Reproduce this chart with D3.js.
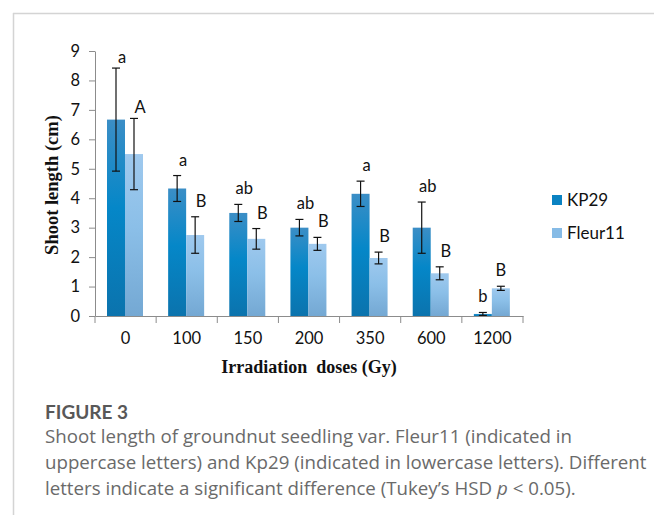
<!DOCTYPE html>
<html><head><meta charset="utf-8">
<script src="https://cdn.jsdelivr.net/npm/d3@7"></script>
<style>
html,body{margin:0;padding:0;background:#fff;}
svg{display:block;}
</style></head>
<body>
<svg id="chart" width="654" height="515"></svg>
<script>
const categories = ["0","100","150","200","350","600","1200"];
const seriesNames = ["KP29","Fleur11"];
const kp29 = [6.67, 4.33, 3.5, 3.0, 4.15, 3.0, 0.07];
const fleur11 = [5.5, 2.75, 2.62, 2.45, 1.97, 1.45, 0.94];
const kp29Err = [1.75, 0.44, 0.29, 0.28, 0.43, 0.87, 0.05];
const fleur11Err = [1.21, 0.62, 0.35, 0.22, 0.2, 0.22, 0.07];
const kp29Letters = ["a","a","ab","ab","a","ab","b"];
const fleur11Letters = ["A","B","B","B","B","B","B"];
const yTicks = [0,1,2,3,4,5,6,7,8,9];

const svg = d3.select("#chart");
const defs = svg.append("defs");
function grad(id, stops){
  const g = defs.append("linearGradient").attr("id", id).attr("x1",0).attr("y1",0).attr("x2",0).attr("y2",1);
  stops.forEach(s => g.append("stop").attr("offset", s[0]).attr("stop-color", s[1]));
}
grad("gKP", [[0,"#3b8ec6"],[0.45,"#0587c8"],[1,"#0b73ad"]]);
grad("gFL", [[0,"#9fc9ee"],[0.45,"#8bbfe8"],[1,"#74a8d3"]]);
const colors = ["url(#gKP)","url(#gFL)"];
const legendColors = ["#0a82c2","#86bbe6"];

// frame
svg.append("line").attr("x1",13).attr("y1",13.5).attr("x2",654).attr("y2",13.5).attr("stroke","#d4d4d4").attr("stroke-width",1.5);
svg.append("line").attr("x1",13.5).attr("y1",13).attr("x2",13.5).attr("y2",515).attr("stroke","#d4d4d4").attr("stroke-width",1.5);

const x0 = 95, x1 = 523, yBottom = 316, yTop = 51;
const x = d3.scaleBand().domain(categories).range([x0, x1]).paddingInner(0).paddingOuter(0);
const y = d3.scaleLinear().domain([0,9]).range([yBottom, yTop]);
const sub = d3.scaleBand().domain(seriesNames).range([12, 48]);

const font = "Lato, 'Open Sans', sans-serif";

// y axis
const yAxis = svg.append("g").attr("transform", `translate(${x0},0)`)
  .call(d3.axisLeft(y).tickValues(yTicks).tickSize(6).tickSizeOuter(0).tickFormat(d3.format("d")));
yAxis.select(".domain").attr("stroke","#8c8c8c");
yAxis.selectAll(".tick line").attr("stroke","#8c8c8c");
yAxis.selectAll(".tick text").attr("font-family", font).attr("font-size", 16.5).attr("fill","#111").attr("x",-15);

// x axis
const xAxis = svg.append("g").attr("transform", `translate(0,${yBottom})`)
  .call(d3.axisBottom(x).tickSize(0).tickSizeOuter(0));
xAxis.select(".domain").attr("stroke","#8c8c8c");
xAxis.selectAll(".tick text").attr("font-family", font).attr("font-size", 16.5).attr("fill","#111").attr("dy", "1.5em");
// category separators
const bounds = categories.map(c => x(c)).concat([x1]);
svg.append("g").selectAll("line").data(bounds).join("line")
  .attr("x1", d => d).attr("x2", d => d).attr("y1", yBottom).attr("y2", yBottom + 7)
  .attr("stroke","#8c8c8c");

// bars
const data = [kp29, fleur11];
const errs = [kp29Err, fleur11Err];
const letters = [kp29Letters, fleur11Letters];
seriesNames.forEach((s, si) => {
  const g = svg.append("g");
  g.selectAll("rect").data(categories).join("rect")
    .attr("x", c => x(c) + sub(s))
    .attr("width", sub.bandwidth())
    .attr("y", (c,i) => y(data[si][i]))
    .attr("height", (c,i) => y(0) - y(data[si][i]))
    .attr("fill", colors[si]);
});
seriesNames.forEach((s, si) => {
  const g = svg.append("g");
  categories.forEach((c, i) => {
    const cx = x(c) + sub(s) + sub.bandwidth()/2;
    const v = data[si][i], e = errs[si][i];
    const yt = y(v + e), yb = y(Math.max(0, v - e));
    g.append("line").attr("x1",cx).attr("x2",cx).attr("y1",yt).attr("y2",yb).attr("stroke","#111").attr("stroke-width",1.2);
    [yt, yb].forEach(yy => g.append("line").attr("x1",cx-4).attr("x2",cx+4).attr("y1",yy).attr("y2",yy).attr("stroke","#111").attr("stroke-width",1.2));
    const off = i === categories.length - 1 ? 0 : 6;
    const gap = i === 0 ? 5 : 10;
    g.append("text").attr("x", cx + off).attr("y", yt - gap)
      .attr("text-anchor","middle").attr("font-family", font).attr("font-size", 16.5).attr("fill","#111")
      .text(letters[si][i]);
  });
});

// legend
const leg = svg.append("g");
seriesNames.forEach((s, si) => {
  const ly = 200 + si * 33;
  leg.append("rect").attr("x",552).attr("y",ly-5).attr("width",10).attr("height",10).attr("fill",legendColors[si]);
  leg.append("text").attr("x",567).attr("y",ly).attr("dy","0.35em").attr("font-family",font).attr("font-size",17).attr("fill","#111").text(s);
});

// axis titles
svg.append("text").attr("x", 309).attr("y", 373).attr("text-anchor","middle")
  .attr("font-family","'Liberation Serif','Times New Roman',serif").attr("font-weight","bold").attr("font-size",18)
  .attr("fill","#111").attr("xml:space","preserve").style("white-space","pre").text("Irradiation  doses (Gy)");
svg.append("text").attr("transform","translate(58,185) rotate(-90)").attr("text-anchor","middle")
  .attr("font-family","'Liberation Serif','Times New Roman',serif").attr("font-weight","bold").attr("font-size",18.5)
  .attr("fill","#111").text("Shoot length (cm)");

// caption
const capFont = "'Open Sans', Lato, sans-serif";
svg.append("text").attr("x",45).attr("y",419).attr("font-family","Lato, sans-serif").attr("font-size",19).attr("font-weight",700).attr("fill","#585858")
  .text("FIGURE 3");
const capLines = [
  "Shoot length of groundnut seedling var. Fleur11 (indicated in",
  "uppercase letters) and Kp29 (indicated in lowercase letters). Different",
  "letters indicate a significant difference (Tukey\u2019s HSD "
];
const cap = svg.append("g");
capLines.forEach((t, i) => {
  const tx = cap.append("text").attr("x",45).attr("y",443 + i*26).attr("font-family",capFont).attr("font-size",18.7).attr("fill","#6a6a6a");
  tx.append("tspan").text(t);
  if (i === 2) {
    tx.append("tspan").attr("font-style","italic").text("p");
    tx.append("tspan").text(" < 0.05).");
  }
});
</script>
</body></html>
